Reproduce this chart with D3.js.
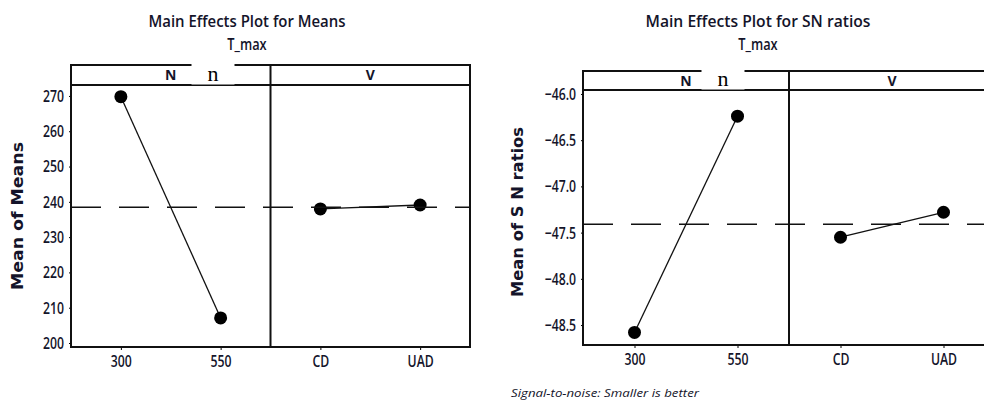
<!DOCTYPE html>
<html>
<head>
<meta charset="utf-8">
<script src="https://cdn.jsdelivr.net/npm/d3@7"></script>
<style>
  body { margin: 0; background: #fff; }
  svg { display: block; }
</style>
</head>
<body>
<div id="chart"></div>
<script>
// Data
const factors = ["N", "V"];
const levelsN = ["300", "550"];
const levelsV = ["CD", "UAD"];
const meansN = [269.8, 207.1];
const meansV = [238.0, 239.1];
const snN = [-48.58, -46.24];
const snV = [-47.55, -47.28];
const meanTicks = [200, 210, 220, 230, 240, 250, 260, 270];
const snTicks = [-48.5, -48.0, -47.5, -47.0, -46.5, -46.0];

const tickFont = "'Open Sans', sans-serif";
const ink = "#14142a";

const svg = d3.select("#chart")
    .append("svg")
    .attr("width", 984)
    .attr("height", 401);

// squeeze text horizontally, the original uses a narrow font
function narrow(sel, k) {
    sel.each(function () {
        const w = this.getComputedTextLength();
        d3.select(this)
            .attr("textLength", w * k)
            .attr("lengthAdjust", "spacingAndGlyphs");
    });
}

function drawPanel(p) {
    const g = svg.append("g");
    const facetW = (p.right - p.left) / factors.length;

    const y = d3.scaleLinear()
        .domain(p.yDomain)
        .range([p.bottom, p.headerBottom]);

    // titles
    g.append("text")
        .attr("x", p.titleX).attr("y", 27)
        .attr("text-anchor", "middle")
        .attr("font-family", tickFont)
        .attr("font-weight", 600)
        .attr("font-size", 16)
        .attr("fill", ink)
        .attr("textLength", p.titleLen)
        .attr("lengthAdjust", "spacingAndGlyphs")
        .text(p.title);

    const sub = g.append("text")
        .attr("x", p.titleX).attr("y", 50)
        .attr("text-anchor", "middle")
        .attr("font-family", tickFont)
        .attr("font-weight", 600)
        .attr("font-size", 16)
        .attr("fill", ink)
        .text("T_max");
    narrow(sub, 0.8);

    // y axis title
    g.append("text")
        .attr("transform", `translate(${p.yTitleX},${p.yTitleY}) rotate(-90)`)
        .attr("text-anchor", "middle")
        .attr("font-family", "'DejaVu Sans', sans-serif")
        .attr("font-weight", "bold")
        .attr("font-size", 15)
        .attr("fill", ink)
        .attr("textLength", p.yTitleLen)
        .attr("lengthAdjust", "spacingAndGlyphs")
        .text(p.yTitle);

    // y axis
    const yAxis = g.append("g")
        .attr("transform", `translate(${p.left},0)`)
        .call(d3.axisLeft(y).tickValues(p.ticks).tickSize(2).tickPadding(5).tickFormat(p.fmt));
    yAxis.select(".domain").remove();
    yAxis.selectAll("text")
        .attr("font-family", tickFont)
        .attr("font-weight", 600)
        .attr("font-size", 17)
        .attr("fill", ink)
        .call(narrow, 0.72);

    const grand = d3.mean(p.values[0]);

    factors.forEach((f, i) => {
        const x0 = p.left + i * facetW;
        const x = d3.scalePoint()
            .domain(p.levels[i])
            .range([x0, x0 + facetW])
            .padding(0.5);

        const xAxis = g.append("g")
            .attr("transform", `translate(0,${p.bottom})`)
            .call(d3.axisBottom(x).tickSize(3).tickPadding(5));
        xAxis.select(".domain").remove();
        xAxis.selectAll("text")
            .attr("font-family", tickFont)
            .attr("font-weight", 600)
            .attr("font-size", 17)
            .attr("fill", ink)
            .call(narrow, 0.72);

        // strip label
        g.append("text")
            .attr("x", x0 + facetW / 2)
            .attr("y", (p.headerTop + p.headerBottom) / 2 + 5)
            .attr("text-anchor", "middle")
            .attr("font-family", tickFont)
            .attr("font-weight", "bold")
            .attr("font-size", 14)
            .attr("fill", ink)
            .text(f);

        const pts = p.levels[i].map((lv, j) => ({ lv: lv, v: p.values[i][j] }));

        g.append("path")
            .datum(pts)
            .attr("fill", "none")
            .attr("stroke", "#111")
            .attr("stroke-width", 1.3)
            .attr("d", d3.line().x(d => x(d.lv)).y(d => y(d.v)));

        g.selectAll(null)
            .data(pts)
            .enter()
            .append("circle")
            .attr("cx", d => x(d.lv))
            .attr("cy", d => y(d.v))
            .attr("r", 6.5)
            .attr("fill", "#000");
    });

    // grand mean reference
    g.append("line")
        .attr("x1", p.left).attr("x2", p.right)
        .attr("y1", y(grand)).attr("y2", y(grand))
        .attr("stroke", "#111")
        .attr("stroke-width", 1.4)
        .attr("stroke-dasharray", "30,18");

    // frame
    const frame = g.append("g")
        .attr("fill", "none")
        .attr("stroke", "#111")
        .attr("stroke-width", 2);
    frame.append("rect")
        .attr("x", p.left).attr("y", p.headerTop)
        .attr("width", p.right - p.left)
        .attr("height", p.bottom - p.headerTop);
    frame.append("line")
        .attr("x1", p.left).attr("x2", p.right)
        .attr("y1", p.headerBottom).attr("y2", p.headerBottom);
    for (let i = 1; i < factors.length; i++) {
        frame.append("line")
            .attr("x1", p.left + i * facetW).attr("x2", p.left + i * facetW)
            .attr("y1", p.headerTop).attr("y2", p.bottom);
    }

    // the pasted "n" patch over the strip
    g.append("rect")
        .attr("x", p.patchX - 21.5).attr("y", p.headerTop - 3)
        .attr("width", 43).attr("height", p.headerBottom - p.headerTop + 2.5)
        .attr("fill", "#fff");
    g.append("text")
        .attr("x", p.patchX).attr("y", p.headerBottom - 4)
        .attr("text-anchor", "middle")
        .attr("font-family", "'Liberation Serif', 'DejaVu Serif', serif")
        .attr("font-size", 22)
        .attr("fill", "#000")
        .text("n");
}

drawPanel({
    title: "Main Effects Plot for Means", titleX: 247, titleLen: 197,
    yTitle: "Mean of Means", yTitleX: 23, yTitleY: 216, yTitleLen: 148,
    left: 71, right: 470, headerTop: 65, headerBottom: 85, bottom: 347,
    yDomain: [198.87, 273.1],
    ticks: meanTicks, fmt: d3.format("d"),
    levels: [levelsN, levelsV], values: [meansN, meansV],
    patchX: 213
});

drawPanel({
    title: "Main Effects Plot for SN ratios", titleX: 758, titleLen: 225,
    yTitle: "Mean of S N ratios", yTitleX: 523, yTitleY: 212, yTitleLen: 170,
    left: 583, right: 995, headerTop: 71, headerBottom: 90, bottom: 345,
    yDomain: [-48.716, -45.957],
    ticks: snTicks, fmt: d3.format(".1f"),
    levels: [levelsN, levelsV], values: [snN, snV],
    patchX: 723
});

svg.append("text")
    .attr("x", 511).attr("y", 397)
    .attr("font-family", "'Open Sans', sans-serif")
    .attr("font-style", "italic")
    .attr("font-size", 10)
    .attr("fill", ink)
    .attr("textLength", 188)
    .attr("lengthAdjust", "spacingAndGlyphs")
    .text("Signal-to-noise: Smaller is better");
</script>
</body>
</html>
